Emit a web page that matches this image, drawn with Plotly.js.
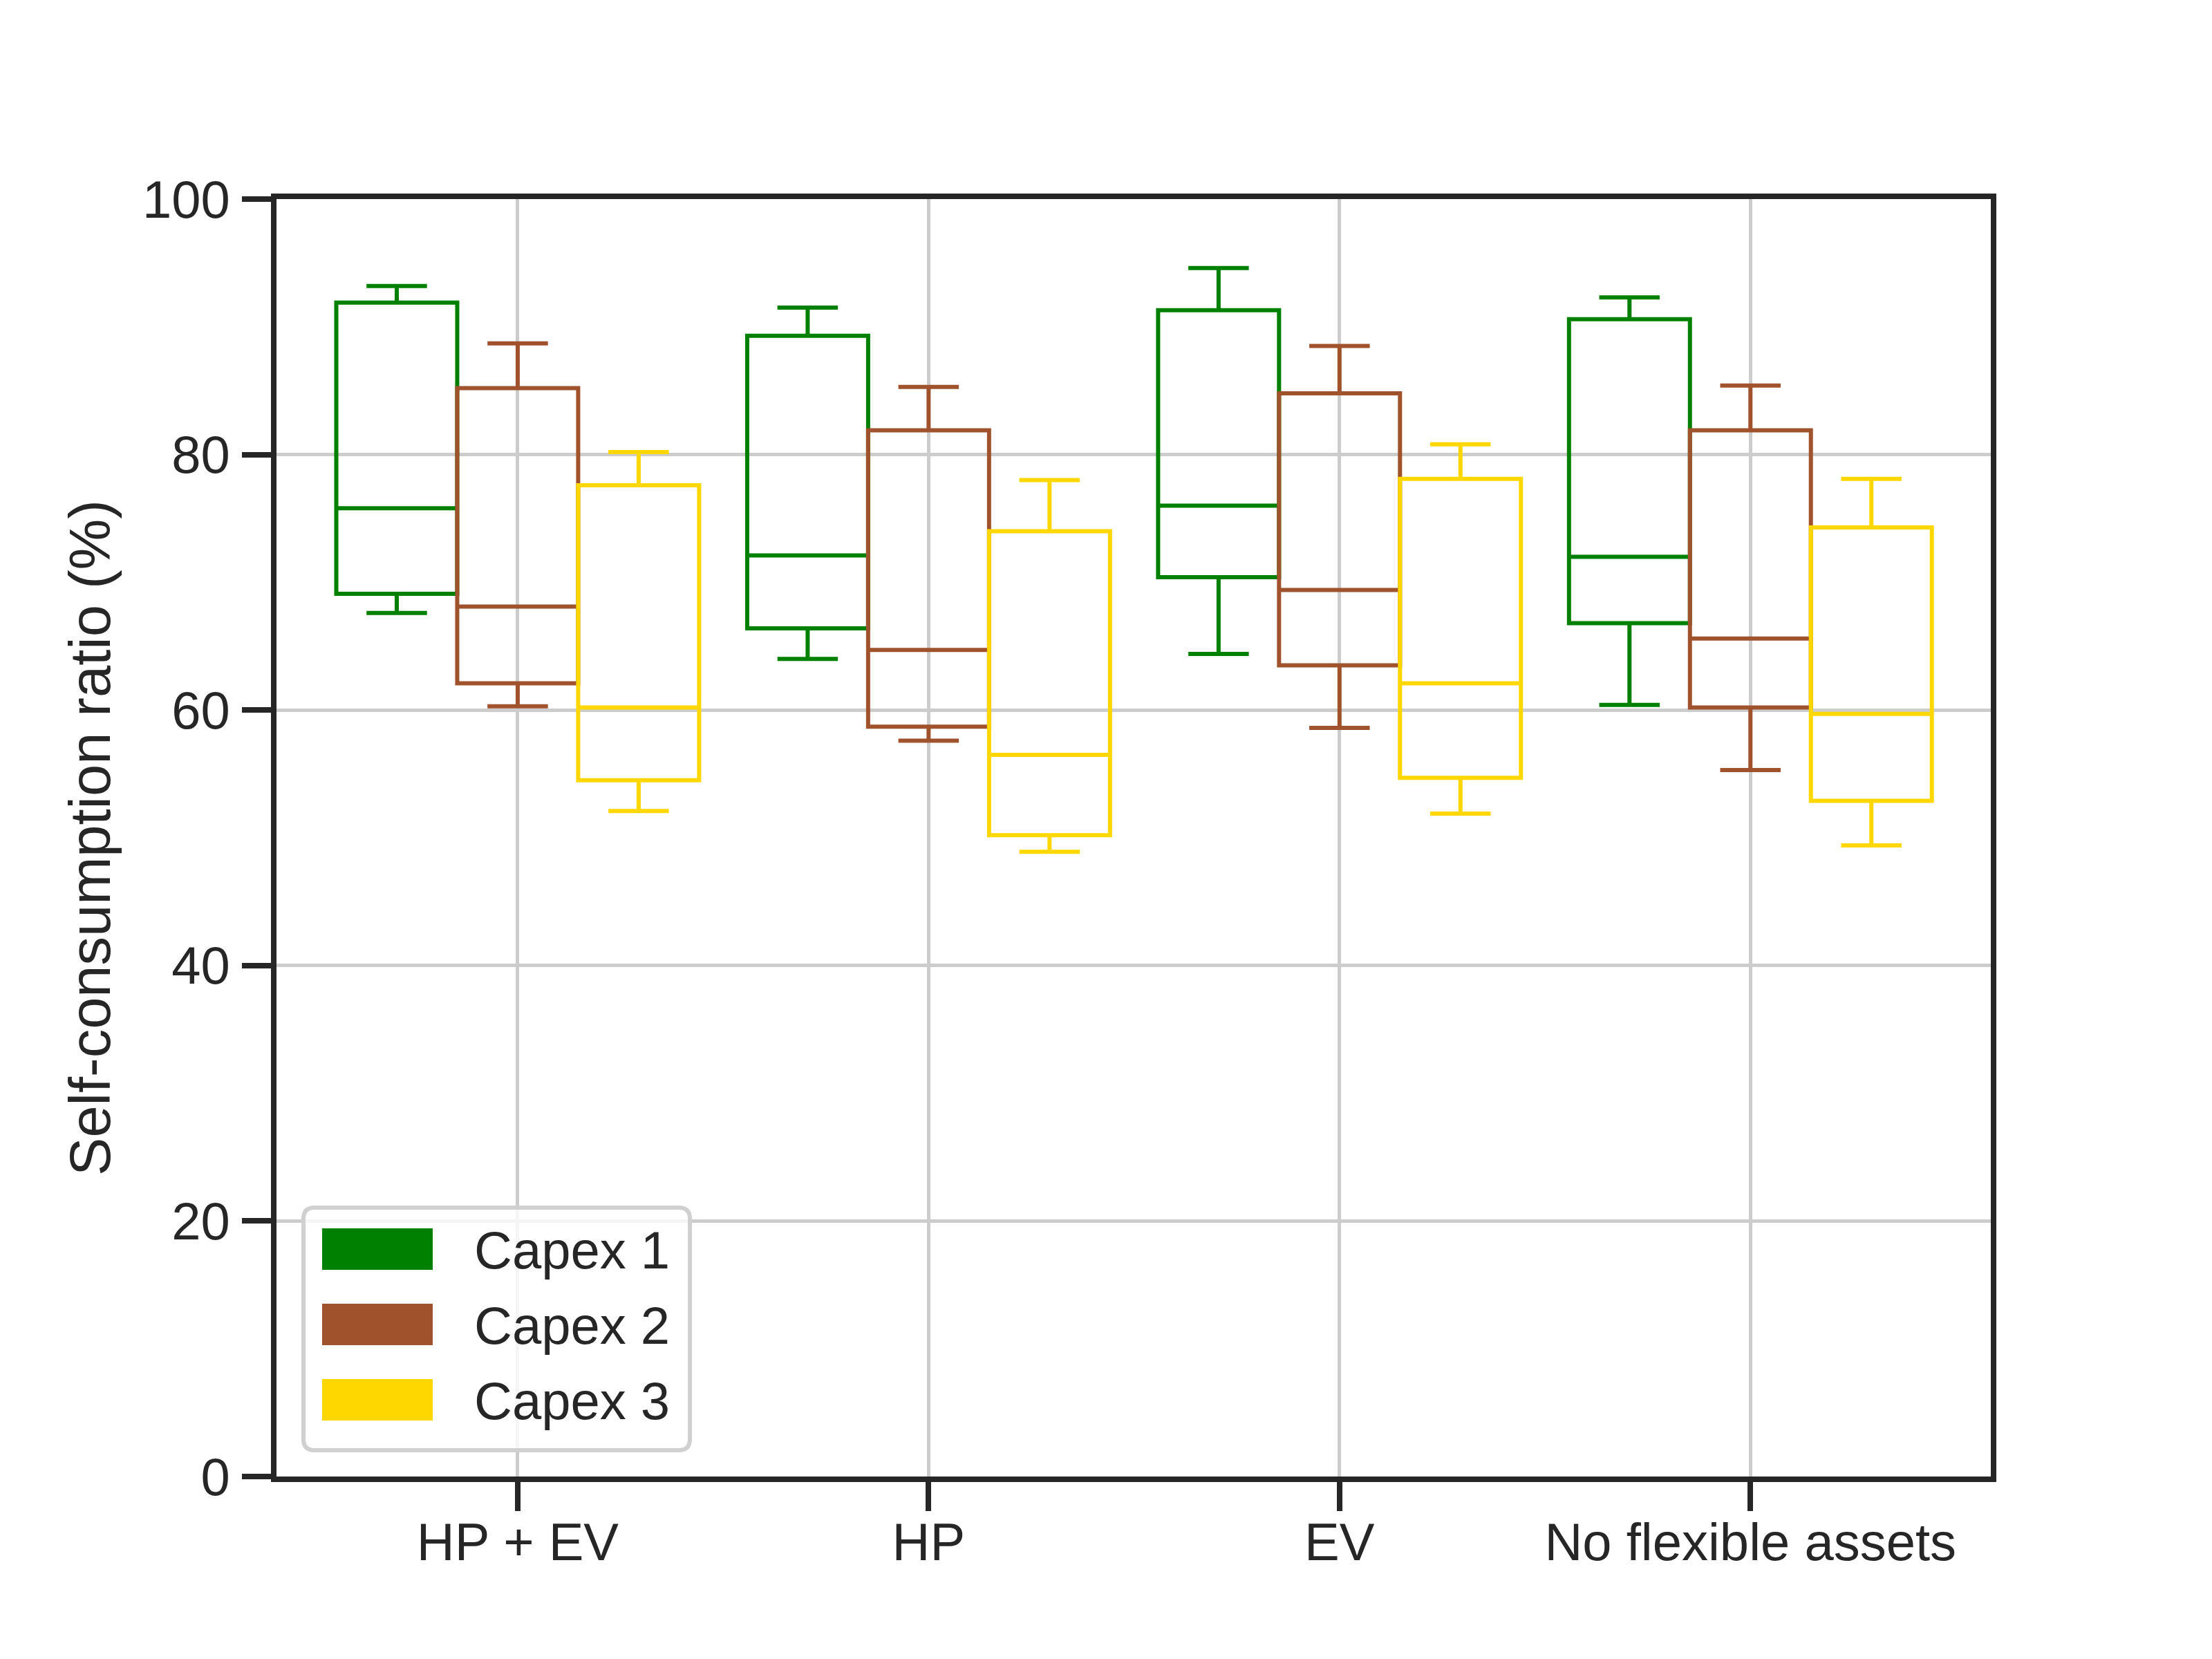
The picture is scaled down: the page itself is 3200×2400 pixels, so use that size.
<!DOCTYPE html>
<html>
<head>
<meta charset="utf-8">
<script src="https://cdn.plot.ly/plotly-3.0.1.min.js"></script>
<style>
  html, body { margin: 0; padding: 0; background: #ffffff; }
  #chart { width: 3200px; height: 2400px; }
</style>
</head>
<body>
<div id="chart"></div>
<script>
// ---------------- DATA ----------------
const categories = ['HP + EV', 'HP', 'EV', 'No flexible assets'];
const seriesNames = ['Capex 1', 'Capex 2', 'Capex 3'];

const capex1Upper  = [93.2, 91.5, 94.6, 92.3];
const capex1Q3     = [91.9, 89.3, 91.3, 90.6];
const capex1Median = [75.8, 72.1, 76.0, 72.0];
const capex1Q1     = [69.1, 66.4, 70.4, 66.8];
const capex1Lower  = [67.6, 64.0, 64.4, 60.4];

const capex2Upper  = [88.7, 85.3, 88.5, 85.4];
const capex2Q3     = [85.2, 81.9, 84.8, 81.9];
const capex2Median = [68.1, 64.7, 69.4, 65.6];
const capex2Q1     = [62.1, 58.7, 63.5, 60.2];
const capex2Lower  = [60.3, 57.6, 58.6, 55.3];

const capex3Upper  = [80.2, 78.0, 80.8, 78.1];
const capex3Q3     = [77.6, 74.0, 78.1, 74.3];
const capex3Median = [60.2, 56.5, 62.1, 59.7];
const capex3Q1     = [54.5, 50.2, 54.7, 52.9];
const capex3Lower  = [52.1, 48.9, 51.9, 49.4];

const yTickVals = [0, 20, 40, 60, 80, 100];
const yTitle = 'Self-consumption ratio (%)';

// ---------------- STYLE ----------------
const seriesColors = ['#008000', '#A0522D', '#FFD700'];
const FONT = 'Arial, "Liberation Sans", Helvetica, sans-serif';
const TEXT = '#262626';
const W = 3200, H = 2400;
const ML = 400, MR = 320, MT = 288, MB = 264;
const PW = W - ML - MR, PH = H - MT - MB;

const stats = [
  {up: capex1Upper, q3: capex1Q3, med: capex1Median, q1: capex1Q1, lo: capex1Lower},
  {up: capex2Upper, q3: capex2Q3, med: capex2Median, q1: capex2Q1, lo: capex2Lower},
  {up: capex3Upper, q3: capex3Q3, med: capex3Median, q1: capex3Q1, lo: capex3Lower}
];

const traces = stats.map((s, i) => ({
  type: 'box',
  name: seriesNames[i],
  x: categories,
  q1: s.q1,
  median: s.med,
  q3: s.q3,
  lowerfence: s.lo,
  upperfence: s.up,
  boxpoints: false,
  fillcolor: 'rgba(0,0,0,0)',
  line: {color: seriesColors[i], width: 6},
  whiskerwidth: 0.5,
  hoverinfo: 'skip',
  showlegend: false
}));

// ---------------- LEGEND (drawn as layout decoration) ----------------
const px2x = p => (p - ML) / PW;
const px2y = p => (MT + PH - p) / PH;

function roundRectPath(x0, y0, x1, y1, r) {
  const X = px2x, Y = px2y;
  return 'M' + X(x0 + r) + ',' + Y(y0) +
    ' L' + X(x1 - r) + ',' + Y(y0) +
    ' Q' + X(x1) + ',' + Y(y0) + ' ' + X(x1) + ',' + Y(y0 + r) +
    ' L' + X(x1) + ',' + Y(y1 - r) +
    ' Q' + X(x1) + ',' + Y(y1) + ' ' + X(x1 - r) + ',' + Y(y1) +
    ' L' + X(x0 + r) + ',' + Y(y1) +
    ' Q' + X(x0) + ',' + Y(y1) + ' ' + X(x0) + ',' + Y(y1 - r) +
    ' L' + X(x0) + ',' + Y(y0 + r) +
    ' Q' + X(x0) + ',' + Y(y0) + ' ' + X(x0 + r) + ',' + Y(y0) + ' Z';
}

const shapes = [{
  type: 'path', xref: 'paper', yref: 'paper', layer: 'above',
  path: roundRectPath(439, 1747, 998, 2098, 16),
  fillcolor: 'rgba(255,255,255,0.8)',
  line: {color: '#d0d0d0', width: 6}
}];
const annotations = [];
seriesNames.forEach((nm, i) => {
  const cy = 1807 + i * 109;
  shapes.push({
    type: 'rect', xref: 'paper', yref: 'paper', layer: 'above',
    x0: px2x(466), x1: px2x(626), y0: px2y(cy - 30), y1: px2y(cy + 30),
    fillcolor: seriesColors[i], line: {width: 0}
  });
  annotations.push({
    xref: 'paper', yref: 'paper', x: px2x(684), y: px2y(cy + 1),
    xanchor: 'left', yanchor: 'middle', showarrow: false,
    text: nm, font: {family: FONT, size: 76, color: TEXT}
  });
});

const layout = {
  width: W, height: H,
  margin: {l: ML, r: MR, t: MT, b: MB, pad: 0},
  paper_bgcolor: '#ffffff',
  plot_bgcolor: '#ffffff',
  font: {family: FONT, size: 76, color: TEXT},
  boxmode: 'group',
  boxgap: 0.117,
  boxgroupgap: 0,
  showlegend: false,
  xaxis: {
    type: 'category',
    range: [-0.587, 3.585],
    showline: true, mirror: true, linecolor: TEXT, linewidth: 8,
    ticks: 'outside', ticklen: 42, tickwidth: 8, tickcolor: TEXT,
    showgrid: true, gridcolor: '#cccccc', gridwidth: 5,
    zeroline: false,
    tickfont: {family: FONT, size: 76, color: TEXT},
    ticklabelstandoff: -20
  },
  yaxis: {
    range: [0, 100],
    tickmode: 'array', tickvals: yTickVals,
    showline: true, mirror: true, linecolor: TEXT, linewidth: 8,
    ticks: 'outside', ticklen: 42, tickwidth: 8, tickcolor: TEXT,
    showgrid: true, gridcolor: '#cccccc', gridwidth: 5,
    zeroline: false,
    tickfont: {family: FONT, size: 76, color: TEXT},
    ticklabelstandoff: 2,
    title: {text: yTitle, font: {family: FONT, size: 83, color: TEXT}, standoff: 22}
  },
  shapes: shapes,
  annotations: annotations
};

Plotly.newPlot('chart', traces, layout, {staticPlot: true, displayModeBar: false});
</script>
</body>
</html>
